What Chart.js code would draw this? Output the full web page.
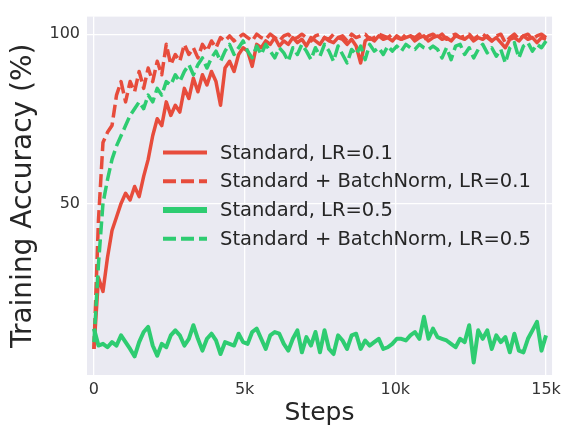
<!DOCTYPE html>
<html>
<head>
<meta charset="utf-8">
<script src="https://cdn.jsdelivr.net/npm/chart.js@4.4.0/dist/chart.umd.min.js"></script>
<style>
  html, body { margin: 0; padding: 0; background: #fff; }
  canvas { display: block; }
</style>
</head>
<body>
<canvas id="accChart" width="566" height="436"></canvas>
<script>
// training steps (x axis)
const steps = [0, 150, 300, 450, 600, 750, 900, 1050, 1200, 1350, 1500, 1650, 1800, 1950, 2100, 2250, 2400, 2550, 2700, 2850,
  3000, 3150, 3300, 3450, 3600, 3750, 3900, 4050, 4200, 4350, 4500, 4650, 4800, 4950, 5100, 5250, 5400, 5550, 5700, 5850,
  6000, 6150, 6300, 6450, 6600, 6750, 6900, 7050, 7200, 7350, 7500, 7650, 7800, 7950, 8100, 8250, 8400, 8550, 8700, 8850,
  9000, 9150, 9300, 9450, 9600, 9750, 9900, 10050, 10200, 10350, 10500, 10650, 10800, 10950, 11100, 11250, 11400, 11550, 11700, 11850,
  12000, 12150, 12300, 12450, 12600, 12750, 12900, 13050, 13200, 13350, 13500, 13650, 13800, 13950, 14100, 14250, 14400, 14550, 14700, 14850,
  15000];

const seriesNames = ['Standard, LR=0.1', 'Standard + BatchNorm, LR=0.1', 'Standard, LR=0.5', 'Standard + BatchNorm, LR=0.5'];

// training accuracy (%)
const stdLr01 = [7, 28, 24, 34, 42, 46, 50, 53, 51, 55, 52, 58, 63, 70, 75, 73, 80, 76, 79, 77,
  84, 81, 87, 83, 88, 85, 89, 86, 79, 90, 92, 89, 94, 96,
  95, 90.5, 97, 96, 98, 97, 99, 96.5, 98, 97, 99, 97.5, 98.5, 96.5, 99, 98, 97, 99, 98, 97.5,
  99, 98.5, 97, 98.5, 96.5, 91.5, 98, 99, 98, 99.5, 98.5, 99, 98, 99.5, 98.5, 99, 99.5, 98, 99, 99.5,
  98, 99, 99.5, 98.5, 99, 98, 99.5, 99, 98.5, 99.5, 98, 99, 98.5, 99.5, 98, 99, 97.5, 96, 98.5, 99,
  98, 99.5, 98.5, 99, 97.5, 99, 98.5];
const bnLr01 = [7, 45, 68, 71, 73, 82, 86, 80, 86, 83, 89, 84, 90, 86, 92, 88, 97, 91, 94, 92,
  97, 94, 96, 93, 97, 95, 98, 96, 99, 98, 99.5, 98, 99, 100,
  99, 98, 100, 99, 98.5, 100, 99, 98, 99.5, 100, 98.5, 99, 100, 99, 98, 99.5, 100, 99, 98.5, 100,
  99, 99.5, 98, 100, 99, 99.5, 100, 98.5, 99, 100, 99.5, 99, 100, 99, 98.5, 100, 99.5, 99, 100, 98.5,
  99.5, 100, 99, 100, 98.5, 99.5, 100, 99, 99.5, 100, 98.5, 99.5, 100, 99, 98, 99.5, 100, 97.5, 99, 100,
  98.5, 99.5, 100, 98.5, 99.5, 100, 99];
const stdLr05 = [13, 8, 8.5, 7.5, 9, 8, 11, 9, 7, 4.8, 9, 12, 13.5, 8, 5, 8.5, 7.5, 11, 12.5, 11,
  8, 10, 14, 10, 6.5, 10, 11.5, 9.5, 5.5, 9, 8.5, 8, 11.5, 9,
  8.5, 12, 13, 10, 7, 11, 12, 11.5, 8.5, 6.5, 10, 12.5, 6, 10.5, 8, 12, 6, 12.5, 7, 5.5,
  11, 9.5, 7, 11, 11.5, 7, 9.5, 8, 9, 10, 7, 7.5, 8.5,
  10, 10, 9.5, 11, 12, 10, 16.5, 10, 13, 10.5, 10, 9.5, 8.5, 7.5, 10, 9, 14, 3, 12.5, 10,
  12.5, 7, 11, 9, 10.5, 6, 11.5, 6.5, 6, 10, 12.5, 15, 6.5, 11];
const bnLr05 = [9, 32, 50, 57, 63, 67, 70, 73, 76, 78, 80, 78, 82, 80, 84, 82, 86, 85, 88, 86,
  89, 91, 88, 91, 93, 90, 93, 95, 92, 95, 97, 94, 96, 98,
  95, 93, 96.5, 94, 97, 95, 93, 96, 94.5, 92, 96, 94, 97, 95, 92.5, 96, 93.5, 97, 95, 92,
  96.5, 94, 91.5, 95.5, 94, 96.5, 92.5, 97, 95, 96, 94, 96.5, 95, 96.5, 95, 97, 96, 95.5, 97, 96,
  95.5, 96.5, 95.5, 93, 96, 92.5, 96.5, 97, 94, 96, 93, 95.5, 97, 94.5, 96, 93.5, 95.5, 91.5, 96, 97.5,
  93, 96.5, 97.5, 95, 97, 96, 98];

const xTickValues = [0, 5000, 10000, 15000];
const xTickLabels = ['0', '5k', '10k', '15k'];
const yTickValues = [50, 100];
const yTickLabels = ['50', '100'];

const RED = '#e74c3c';
const GREEN = '#2ecc71';

Chart.defaults.font.family = '"DejaVu Sans", sans-serif';

function toPoints(values) {
  return steps.map((s, i) => ({ x: s, y: values[i] }));
}

// grey panel behind the plot (seaborn darkgrid look)
const panelBg = {
  id: 'panelBg',
  beforeDraw(chart) {
    const { ctx, chartArea: a } = chart;
    ctx.save();
    ctx.fillStyle = '#eaeaf2';
    ctx.fillRect(a.left, a.top, a.right - a.left, a.bottom - a.top);
    ctx.restore();
  }
};

// legend inside the plot, no frame
const innerLegend = {
  id: 'innerLegend',
  afterDatasetsDraw(chart) {
    const { ctx, chartArea: a } = chart;
    const x0 = a.left + 76, y0 = a.top + 136, rowH = 28.7;
    ctx.save();
    ctx.font = '19.5px "DejaVu Sans"';
    ctx.textBaseline = 'middle';
    chart.data.datasets.forEach((ds, i) => {
      const y = y0 + i * rowH;
      ctx.strokeStyle = ds.borderColor;
      ctx.lineWidth = ds.legendWidth;
      ctx.setLineDash(ds.borderDash || []);
      ctx.beginPath();
      ctx.moveTo(x0, y);
      ctx.lineTo(x0 + 44, y);
      ctx.stroke();
      ctx.setLineDash([]);
      ctx.fillStyle = '#262626';
      ctx.fillText(ds.label, x0 + 57, y + 1);
    });
    ctx.restore();
  }
};

new Chart(document.getElementById('accChart'), {
  type: 'line',
  data: {
    datasets: [
      { label: seriesNames[0], data: toPoints(stdLr01), borderColor: RED, borderWidth: 3.5, order: 4, legendWidth: 4 },
      { label: seriesNames[1], data: toPoints(bnLr01), borderColor: RED, borderWidth: 3.5, borderDash: [13, 5], order: 3, legendWidth: 4 },
      { label: seriesNames[2], data: toPoints(stdLr05), borderColor: GREEN, borderWidth: 4, order: 2, legendWidth: 6 },
      { label: seriesNames[3], data: toPoints(bnLr05), borderColor: GREEN, borderWidth: 3.5, borderDash: [13, 5], order: 1, legendWidth: 4 }
    ]
  },
  options: {
    responsive: false,
    animation: false,
    events: [],
    layout: { padding: { top: 13, right: 13, left: 0, bottom: 0 } },
    elements: {
      point: { radius: 0 },
      line: { tension: 0, borderJoinStyle: 'round', fill: false }
    },
    plugins: { legend: { display: false }, tooltip: { enabled: false } },
    scales: {
      x: {
        type: 'linear',
        min: -230,
        max: 15200,
        afterBuildTicks: s => { s.ticks = xTickValues.map(v => ({ value: v })); },
        afterFit: s => { s.height = 61; },
        grid: { color: '#ffffff', lineWidth: 1.3, drawTicks: false },
        border: { display: false },
        ticks: {
          callback: (v, i) => xTickLabels[i],
          color: '#333333',
          font: { size: 16 },
          padding: 5,
          maxRotation: 0,
          autoSkip: false
        },
        title: {
          display: true,
          text: 'Steps',
          color: '#262626',
          font: { size: 25 },
          padding: { top: 0, bottom: 8 }
        }
      },
      y: {
        type: 'linear',
        min: -0.7,
        max: 105.2,
        afterBuildTicks: s => { s.ticks = yTickValues.map(v => ({ value: v })); },
        afterFit: s => { s.width = 87; },
        grid: { color: '#ffffff', lineWidth: 1.3, drawTicks: false },
        border: { display: false },
        ticks: {
          callback: (v, i) => yTickLabels[i],
          color: '#333333',
          font: { size: 16 },
          padding: 7
        },
        title: {
          display: true,
          text: 'Training Accuracy (%)',
          color: '#262626',
          font: { size: 28 },
          padding: { top: 7, bottom: 0 }
        }
      }
    }
  },
  plugins: [panelBg, innerLegend]
});
</script>
</body>
</html>
